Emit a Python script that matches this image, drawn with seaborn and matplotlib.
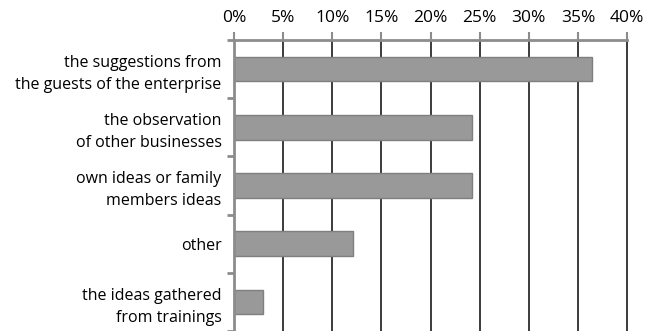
import matplotlib
matplotlib.use("Agg")
import matplotlib.pyplot as plt
import seaborn as sns
import pandas as pd
from matplotlib.ticker import FuncFormatter, MultipleLocator

categories = [
    "the suggestions from\nthe guests of the enterprise",
    "the observation\nof other businesses",
    "own ideas or family\nmembers ideas",
    "other",
    "the ideas gathered\nfrom trainings",
]
values = [36.4, 24.2, 24.2, 12.1, 3.0]
xticks = [0, 5, 10, 15, 20, 25, 30, 35, 40]

sns.set_theme(style="white")
plt.rcParams["font.family"] = ["Open Sans", "DejaVu Sans"]

df = pd.DataFrame({"category": categories, "value": values})

fig = plt.figure(figsize=(6.46, 3.31), dpi=100)
ax = fig.add_axes([234 / 646, 0.0, (627 - 234) / 646, 1 - 40 / 331])

sns.barplot(data=df, y="category", x="value", orient="h", ax=ax,
            color="#999999", edgecolor="#7f7f7f", linewidth=1.0,
            width=0.42, saturation=1)

ax.set_xlim(0, 40)
ax.set_ylim(4.5, -0.5)
ax.set_xticks(xticks)
ax.xaxis.set_major_formatter(FuncFormatter(lambda v, p: f"{int(v)}%"))
ax.xaxis.tick_top()
ax.xaxis.set_label_position("top")
ax.set_xlabel("")
ax.set_ylabel("")

for x in xticks[1:]:
    ax.axvline(x, color="#1a1a1a", linewidth=1.2, zorder=0, clip_on=False)

for s in ["bottom", "right"]:
    ax.spines[s].set_visible(False)
for s in ["top", "left"]:
    ax.spines[s].set_color("#8c8c8c")
    ax.spines[s].set_linewidth(2)

ax.tick_params(axis="x", which="major", direction="out", length=6, width=1.5,
               color="#8c8c8c", labelsize=12.5, labelcolor="black", pad=4, top=True, bottom=False)
ax.set_yticks([0, 1, 2, 3, 4])
ax.set_yticklabels(categories, fontsize=11.5, color="black", linespacing=1.5)
ax.tick_params(axis="y", which="major", length=0, pad=9)
ax.yaxis.set_minor_locator(MultipleLocator(1, offset=0.5))
ax.tick_params(axis="y", which="minor", length=5, width=2, color="#8c8c8c", left=True)
for lbl in ax.get_yticklabels():
    lbl.set_horizontalalignment("right")

fig.savefig("out.png", dpi=100)
